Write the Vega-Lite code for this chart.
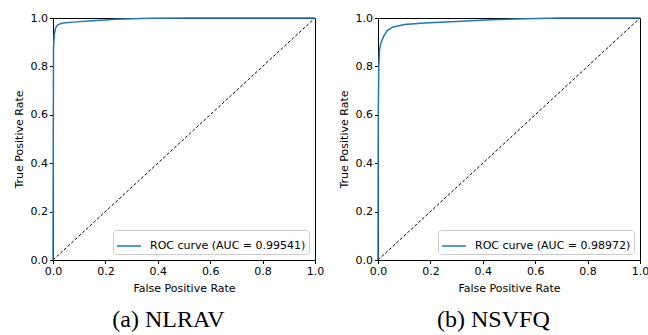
{
  "$schema": "https://vega.github.io/schema/vega-lite/v6.json",
  "background": "white",
  "padding": {"left": 12, "top": 11, "right": 4, "bottom": 2},
  "spacing": 12,
  "datasets": {
    "a": [
      {"fpr": 0, "tpr": 0, "series": "ROC curve (AUC = 0.99541)"},
      {"fpr": 0.001, "tpr": 0.5, "series": "ROC curve (AUC = 0.99541)"},
      {"fpr": 0.002, "tpr": 0.88, "series": "ROC curve (AUC = 0.99541)"},
      {"fpr": 0.005, "tpr": 0.932, "series": "ROC curve (AUC = 0.99541)"},
      {"fpr": 0.01, "tpr": 0.959, "series": "ROC curve (AUC = 0.99541)"},
      {"fpr": 0.019, "tpr": 0.973, "series": "ROC curve (AUC = 0.99541)"},
      {"fpr": 0.038, "tpr": 0.979, "series": "ROC curve (AUC = 0.99541)"},
      {"fpr": 0.089, "tpr": 0.984, "series": "ROC curve (AUC = 0.99541)"},
      {"fpr": 0.15, "tpr": 0.989, "series": "ROC curve (AUC = 0.99541)"},
      {"fpr": 0.24, "tpr": 0.995, "series": "ROC curve (AUC = 0.99541)"},
      {"fpr": 0.37, "tpr": 0.999, "series": "ROC curve (AUC = 0.99541)"},
      {"fpr": 0.55, "tpr": 1.0, "series": "ROC curve (AUC = 0.99541)"},
      {"fpr": 1.0, "tpr": 1.0, "series": "ROC curve (AUC = 0.99541)"}
    ],
    "b": [
      {"fpr": 0, "tpr": 0, "series": "ROC curve (AUC = 0.98972)"},
      {"fpr": 0.001, "tpr": 0.6, "series": "ROC curve (AUC = 0.98972)"},
      {"fpr": 0.003, "tpr": 0.8, "series": "ROC curve (AUC = 0.98972)"},
      {"fpr": 0.006, "tpr": 0.87, "series": "ROC curve (AUC = 0.98972)"},
      {"fpr": 0.012, "tpr": 0.9, "series": "ROC curve (AUC = 0.98972)"},
      {"fpr": 0.022, "tpr": 0.925, "series": "ROC curve (AUC = 0.98972)"},
      {"fpr": 0.035, "tpr": 0.948, "series": "ROC curve (AUC = 0.98972)"},
      {"fpr": 0.055, "tpr": 0.962, "series": "ROC curve (AUC = 0.98972)"},
      {"fpr": 0.1, "tpr": 0.973, "series": "ROC curve (AUC = 0.98972)"},
      {"fpr": 0.178, "tpr": 0.979, "series": "ROC curve (AUC = 0.98972)"},
      {"fpr": 0.3, "tpr": 0.986, "series": "ROC curve (AUC = 0.98972)"},
      {"fpr": 0.43, "tpr": 0.993, "series": "ROC curve (AUC = 0.98972)"},
      {"fpr": 0.56, "tpr": 0.997, "series": "ROC curve (AUC = 0.98972)"},
      {"fpr": 0.7, "tpr": 1.0, "series": "ROC curve (AUC = 0.98972)"},
      {"fpr": 1.0, "tpr": 1.0, "series": "ROC curve (AUC = 0.98972)"}
    ],
    "diag": [{"fpr": 0, "tpr": 0}, {"fpr": 1, "tpr": 1}]
  },
  "config": {
    "view": {"stroke": "black", "strokeWidth": 1},
    "font": "DejaVu Sans",
    "axis": {
      "grid": false,
      "domain": false,
      "tickColor": "black",
      "tickSize": 3.5,
      "labelFontSize": 11,
      "labelColor": "black",
      "labelFont": "DejaVu Sans",
      "titleFont": "DejaVu Sans",
      "titleFontSize": 11,
      "titleFontWeight": "normal",
      "titleColor": "black",
      "labelPadding": 2,
      "labelFlush": false
    },
    "legend": {
      "orient": "bottom-right",
      "offset": 6,
      "strokeColor": "#cccccc",
      "cornerRadius": 3,
      "padding": 3,
      "symbolType": "stroke",
      "symbolSize": 576,
      "symbolStrokeWidth": 1.5,
      "labelFontSize": 11,
      "labelFont": "DejaVu Sans",
      "labelColor": "black",
      "labelOffset": 8,
      "fillColor": "white"
    },
    "title": {"font": "Liberation Serif", "fontSize": 24, "fontWeight": "normal", "color": "black", "orient": "bottom", "anchor": "middle", "frame": "bounds", "offset": 14}
  },
  "hconcat": [
    {
      "width": 262,
      "height": 242,
      "title": "(a) NLRAV",
      "layer": [
        {
          "data": {"name": "diag"},
          "mark": {"type": "line", "color": "black", "strokeWidth": 1, "strokeDash": [3, 2]},
          "encoding": {
            "x": {"field": "fpr", "type": "quantitative"},
            "y": {"field": "tpr", "type": "quantitative"}
          }
        },
        {
          "data": {"name": "a"},
          "mark": {"type": "line", "strokeWidth": 1.5},
          "encoding": {
            "x": {"field": "fpr", "type": "quantitative", "scale": {"domain": [0, 1]}, "axis": {"title": "False Positive Rate", "values": [0, 0.2, 0.4, 0.6, 0.8, 1.0], "format": ".1f", "titlePadding": 6}},
            "y": {"field": "tpr", "type": "quantitative", "scale": {"domain": [0, 1]}, "axis": {"title": "True Positive Rate", "values": [0, 0.2, 0.4, 0.6, 0.8, 1.0], "format": ".1f", "titlePadding": 6}},
            "color": {"field": "series", "type": "nominal", "scale": {"range": ["#1f77b4"]}, "legend": {"title": null}},
            "order": {"value": null}
          }
        }
      ]
    },
    {
      "width": 262,
      "height": 242,
      "title": "(b) NSVFQ",
      "layer": [
        {
          "data": {"name": "diag"},
          "mark": {"type": "line", "color": "black", "strokeWidth": 1, "strokeDash": [3, 2]},
          "encoding": {
            "x": {"field": "fpr", "type": "quantitative"},
            "y": {"field": "tpr", "type": "quantitative"}
          }
        },
        {
          "data": {"name": "b"},
          "mark": {"type": "line", "strokeWidth": 1.5},
          "encoding": {
            "x": {"field": "fpr", "type": "quantitative", "scale": {"domain": [0, 1]}, "axis": {"title": "False Positive Rate", "values": [0, 0.2, 0.4, 0.6, 0.8, 1.0], "format": ".1f", "titlePadding": 6}},
            "y": {"field": "tpr", "type": "quantitative", "scale": {"domain": [0, 1]}, "axis": {"title": "True Positive Rate", "values": [0, 0.2, 0.4, 0.6, 0.8, 1.0], "format": ".1f", "titlePadding": 6}},
            "color": {"field": "series", "type": "nominal", "scale": {"range": ["#1f77b4"]}, "legend": {"title": null}},
            "order": {"value": null}
          }
        }
      ]
    }
  ],
  "resolve": {"scale": {"color": "independent"}}
}
